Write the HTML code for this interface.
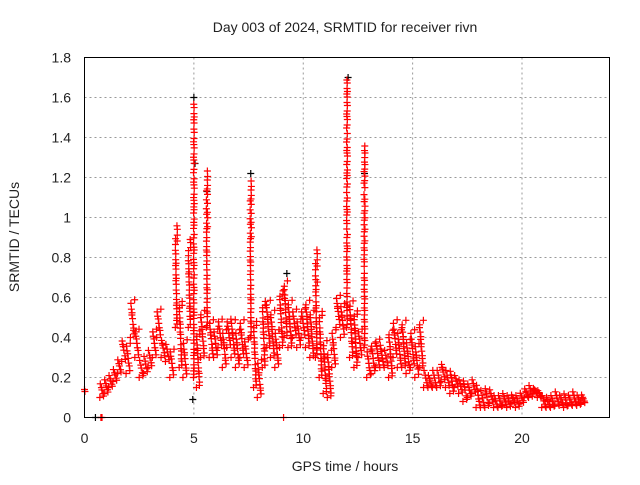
<!DOCTYPE html>
<html><head><meta charset="utf-8"><style>
body{margin:0;background:#fff;}
svg text{font-family:"Liberation Sans","DejaVu Sans",sans-serif;fill:#222;}
</style></head><body>
<svg id="c" width="640" height="480">
<rect width="640" height="480" fill="#fff"/>
<text x="345" y="32" font-size="14" text-anchor="middle">Day 003 of 2024, SRMTID for receiver rivn</text>
<text x="345" y="471" font-size="14" text-anchor="middle">GPS time / hours</text>
<text transform="translate(19,237) rotate(-90)" font-size="14" text-anchor="middle">SRMTID / TECUs</text>
<g id="grid"></g><g id="ticks"></g><g id="marks"></g>
<rect x="84.5" y="57.5" width="525" height="360" fill="none" stroke="#000" stroke-width="1"/>
</svg>
<script>
const xTicks=[0,5,10,15,20];
const yTicks=[0,0.2,0.4,0.6,0.8,1,1.2,1.4,1.6,1.8];
const yTickLabels=["0","0.2","0.4","0.6","0.8","1","1.2","1.4","1.6","1.8"];
const binStart=0.8, binWidth=0.2;
const binLow=[.10,.12,.15,.18,.22,.28,.22,.40,.30,.20,.22,.25,.30,.40,.30,.28,.20,.45,.25,.20,.45,.20,.15,.30,.45,.30,.30,.35,.25,.35,.30,.25,.30,.25,.40,.15,.10,.25,.35,.30,.25,.35,.40,.35,.40,.35,.40,.35,.30,.30,.20,.12,.10,.25,.45,.40,.45,.30,.25,.30,.35,.20,.22,.25,.25,.25,.20,.30,.25,.25,.22,.25,.20,.25,.15,.15,.15,.15,.18,.15,.12,.15,.12,.08,.10,.12,.05,.05,.05,.07,.05,.05,.06,.05,.07,.05,.07,.10,.10,.12,.10,.05,.05,.05,.06,.06,.05,.06,.06,.06,.07];
const binHigh=[.18,.20,.22,.25,.30,.40,.38,.60,.45,.30,.32,.35,.45,.55,.40,.38,.35,.97,.60,.40,.90,1.58,.45,.55,1.25,.50,.45,.50,.45,.50,.50,.45,.50,.40,1.20,.50,.30,.60,.60,.55,.45,.65,.70,.60,.55,.50,.55,.60,.55,.85,.55,.40,.35,.45,.62,.58,1.70,.60,.55,.45,1.38,.35,.38,.40,.38,.35,.45,.50,.45,.50,.40,.45,.38,.50,.25,.22,.25,.25,.28,.25,.25,.22,.20,.20,.18,.20,.18,.15,.16,.15,.12,.12,.13,.12,.12,.12,.13,.15,.17,.15,.14,.12,.11,.12,.14,.12,.13,.12,.14,.12,.12];
const extraTimes=[0.0,0.02,0.75,0.8,9.1];
const extraVals=[0.14,0.13,0,0,0];
const blackTimes=[0.5,4.95,5.0,5.05,7.6,12.05,12.8,9.25,5.6];
const blackVals=[0,0.09,1.6,1.27,1.22,1.7,1.22,0.72,1.13];
const X=t=>84.5+t*525/24, Y=v=>417.5-v*200;
const NS="http://www.w3.org/2000/svg";
const grid=document.getElementById('grid'),ticks=document.getElementById('ticks'),marks=document.getElementById('marks');
function mk(tag,a,p){const e=document.createElementNS(NS,tag);for(const k in a)e.setAttribute(k,a[k]);p.appendChild(e);return e;}
xTicks.forEach(t=>{
 const g=mk('line',{x1:X(t),x2:X(t),y1:57.5,y2:417.5,stroke:'#999','stroke-dasharray':'2,3'},grid);
 
 
 const l=mk('text',{x:X(t),y:443,'font-size':14,'text-anchor':'middle'},ticks);l.textContent=t;
 
 
});
yTicks.forEach((v,i)=>{
 const g=mk('line',{x1:84.5,x2:609.5,y1:Y(v),y2:Y(v),stroke:'#999','stroke-dasharray':'2,3'},grid);
 
 
 const l=mk('text',{x:71,y:Y(v)+5,'font-size':14,'text-anchor':'end'},ticks);l.textContent=yTickLabels[i];
 
 
});
function cross(t,v,col){
 const x=X(t),y=Y(v);
 const p=mk('path',{d:`M${x-3.5} ${y}h7M${x} ${y-3.5}v7`,stroke:col,'stroke-width':1.2,fill:'none'},marks);
 
 
}
blackTimes.forEach((t,i)=>cross(t,blackVals[i],'#000'));
binLow.forEach((lo,i)=>{
 const hi=binHigh[i],t0=binStart+i*binWidth;
 const n=Math.max(6,Math.ceil((hi-lo)/0.02)+1);
 const w=binWidth*Math.min(1,0.25/(hi-lo));
 for(let k=0;k<n;k++){
  const v=lo+(hi-lo)*((k*0.618)%1);
  const t=t0-binWidth/2+(binWidth-w)/2+w*((k*0.37)%1);
  cross(t,v,'#f00');
 }
});
extraTimes.forEach((t,i)=>cross(t,extraVals[i],'#f00'));
</script>
</body></html>
